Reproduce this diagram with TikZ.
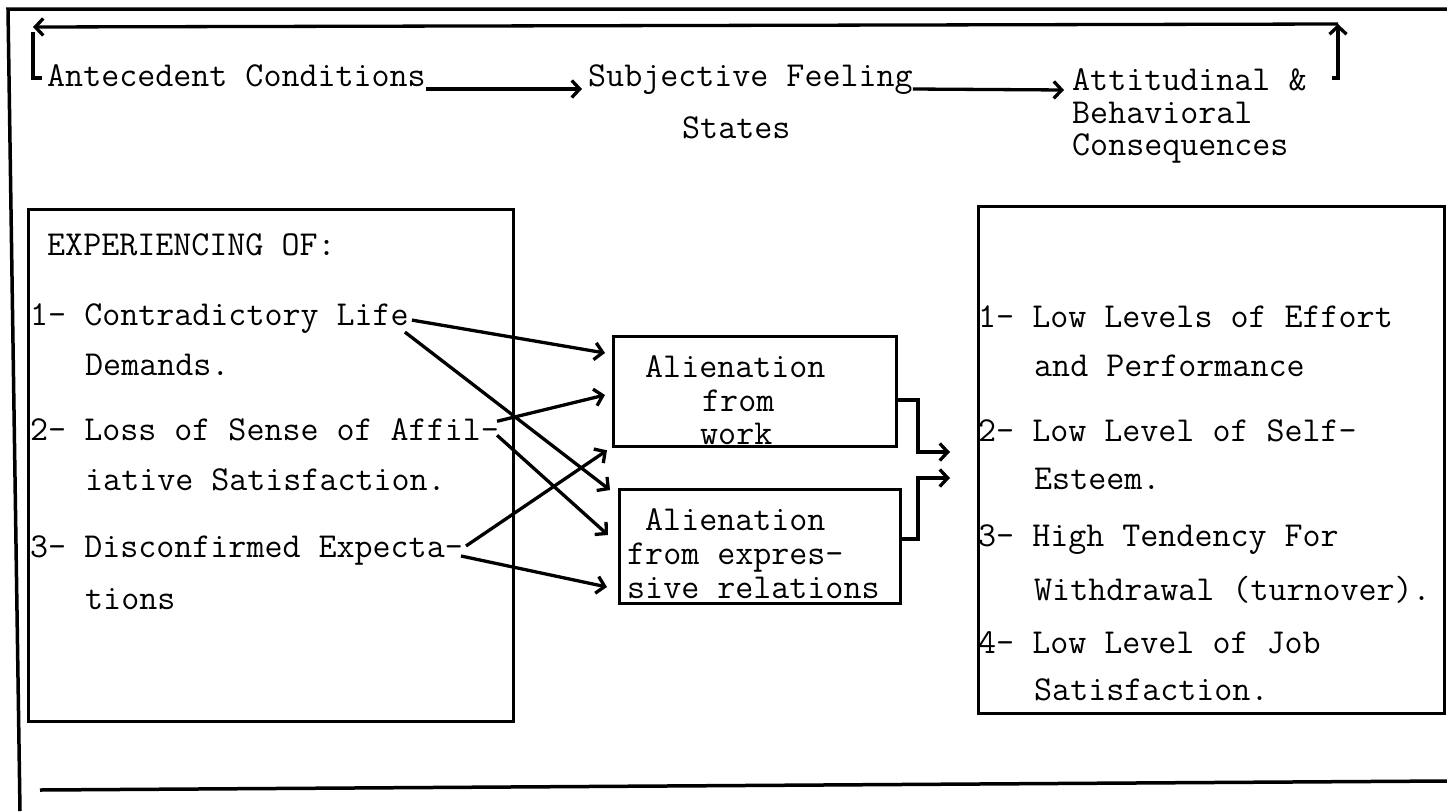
\documentclass[tikz,border=0pt]{standalone}
\usepackage{fontspec}
\newcommand\tw{\ttfamily\addfontfeatures{FakeBold=2}}
\usetikzlibrary{arrows.meta,calc}
\begin{document}
\begin{tikzpicture}[x=1pt,y=-1pt,
  txt/.style={anchor=base west,inner sep=0pt,font=\tw\fontsize{35}{38}\selectfont},
  boxx/.style={draw,line width=3.3pt,anchor=north west,inner sep=0pt},
  ln/.style={line width=3.5pt},
  arr/.style={line width=3.3pt,-{Straight Barb[length=8pt,width=17pt,line width=3.3pt]}}]
\useasboundingbox (0,0) rectangle (1447,811);
% outer frame
\coordinate (ftl) at (8,9);
\coordinate (ftr) at (1447,9);
\coordinate (fbl) at (20,811);
\coordinate (bbl) at (40,790);
\coordinate (bbr) at (1447,781);
\draw[ln] (ftr) -- (ftl) -- (fbl);
\draw[ln] (bbl) -- (bbr);
% feedback loop
\coordinate (rb) at (1338,78);
\coordinate (rbt) at (1332,78);
\coordinate (rt) at (1338,24);
\coordinate (lt) at (33,27);
\coordinate (lv) at (33,32);
\coordinate (lb) at (33,78);
\coordinate (lbt) at (42,78);
\draw[arr] (rbt) -- (rb) -- (rt);
\draw[arr] (rt) -- (lt);
\draw[ln] (lv) -- (lb) -- (lbt);
% headings
\node[txt] (ac) at (47,86) {Antecedent Conditions};
\node[txt] (sf) at (588,86) {Subjective Feeling};
\node[txt] (st) at (682,138) {States};
\node[txt] (ab1) at (1072,90) {Attitudinal \&};
\node[txt] (ab2) at (1072,123) {Behavioral};
\node[txt] (ab3) at (1072,155) {Consequences};
\draw[arr] ($(ac.base east)+(0,3)$) -- ($(sf.base west)+(-6,3)$);
\draw[arr] ($(sf.base east)+(0,3)$) -- ($(ab1.base west)+(-8,0)$);
% left box
\node[boxx,minimum width=485pt,minimum height=512pt] (lbox) at (27,208) {};
\node[txt] (e0) at (47,255) {EXPERIENCING OF:};
\node[txt] (l1) at (30,325) {1- Contradictory Life};
\node[txt] (l1b) at (85,375) {Demands.};
\node[txt] (l2) at (30,440) {2- Loss of Sense of Affil-};
\node[txt] (l2b) at (85,490) {iative Satisfaction.};
\node[txt] (l3) at (30,557) {3- Disconfirmed Expecta-};
\node[txt] (l3b) at (85,609) {tions};
% right box
\node[boxx,minimum width=466pt,minimum height=507pt] (rbox) at (977,205) {};
\node[txt] (r1) at (978,327) {1- Low Levels of Effort};
\node[txt] (r1b) at (1034,376) {and Performance};
\node[txt] (r2) at (978,441) {2- Low Level of Self-};
\node[txt] (r2b) at (1034,489) {Esteem.};
\node[txt] (r3) at (978,546) {3- High Tendency For};
\node[txt] (r3b) at (1034,600) {Withdrawal (turnover).};
\node[txt] (r4) at (978,653) {4- Low Level of Job};
\node[txt] (r4b) at (1034,700) {Satisfaction.};
% middle boxes
\node[boxx,minimum width=283pt,minimum height=110pt] (b1) at (612,335) {};
\node[txt] (b1a) at (645,377) {Alienation};
\node[txt] (b1b) at (702,411) {from};
\node[txt] (b1c) at (700,444) {work};
\node[boxx,minimum width=281pt,minimum height=114pt] (b2) at (618,488) {};
\node[txt] (b2a) at (645,530) {Alienation};
\node[txt] (b2b) at (627,564) {from expres-};
\node[txt] (b2c) at (627,598) {sive relations};
% connectors left -> middle
\draw[arr] ($(l1.east)+(3,2)$) -- ($(b1.north west)+(-7,18)$);
\draw[arr] ($(l1.east)+(-4,14)$) -- ($(b2.north west)+(-8,2)$);
\draw[arr] ($(l2.east)+(-2,-8)$) -- ($(b1.north west)+(-7,60)$);
\draw[arr] ($(l2.east)+(-2,6)$) -- ($(b2.north west)+(-10,47)$);
\draw[arr] ($(l3.east)+(3,-4)$) -- ($(b1.south west)+(-5,2)$);
\draw[arr] ($(l3.east)+(-2,6)$) -- ($(b2.north west)+(-11,99)$);
% middle -> right
\coordinate (j1) at (918,400);
\coordinate (j1d) at (918,452);
\coordinate (t1) at (950,452);
\coordinate (j2) at (918,539);
\coordinate (j2u) at (918,478);
\coordinate (t2) at (950,478);
\draw[arr] (b1.east |- j1) -- (j1) -- (j1d) -- (t1);
\draw[arr] (b2.east |- j2) -- (j2) -- (j2u) -- (t2);
\end{tikzpicture}
\end{document}
